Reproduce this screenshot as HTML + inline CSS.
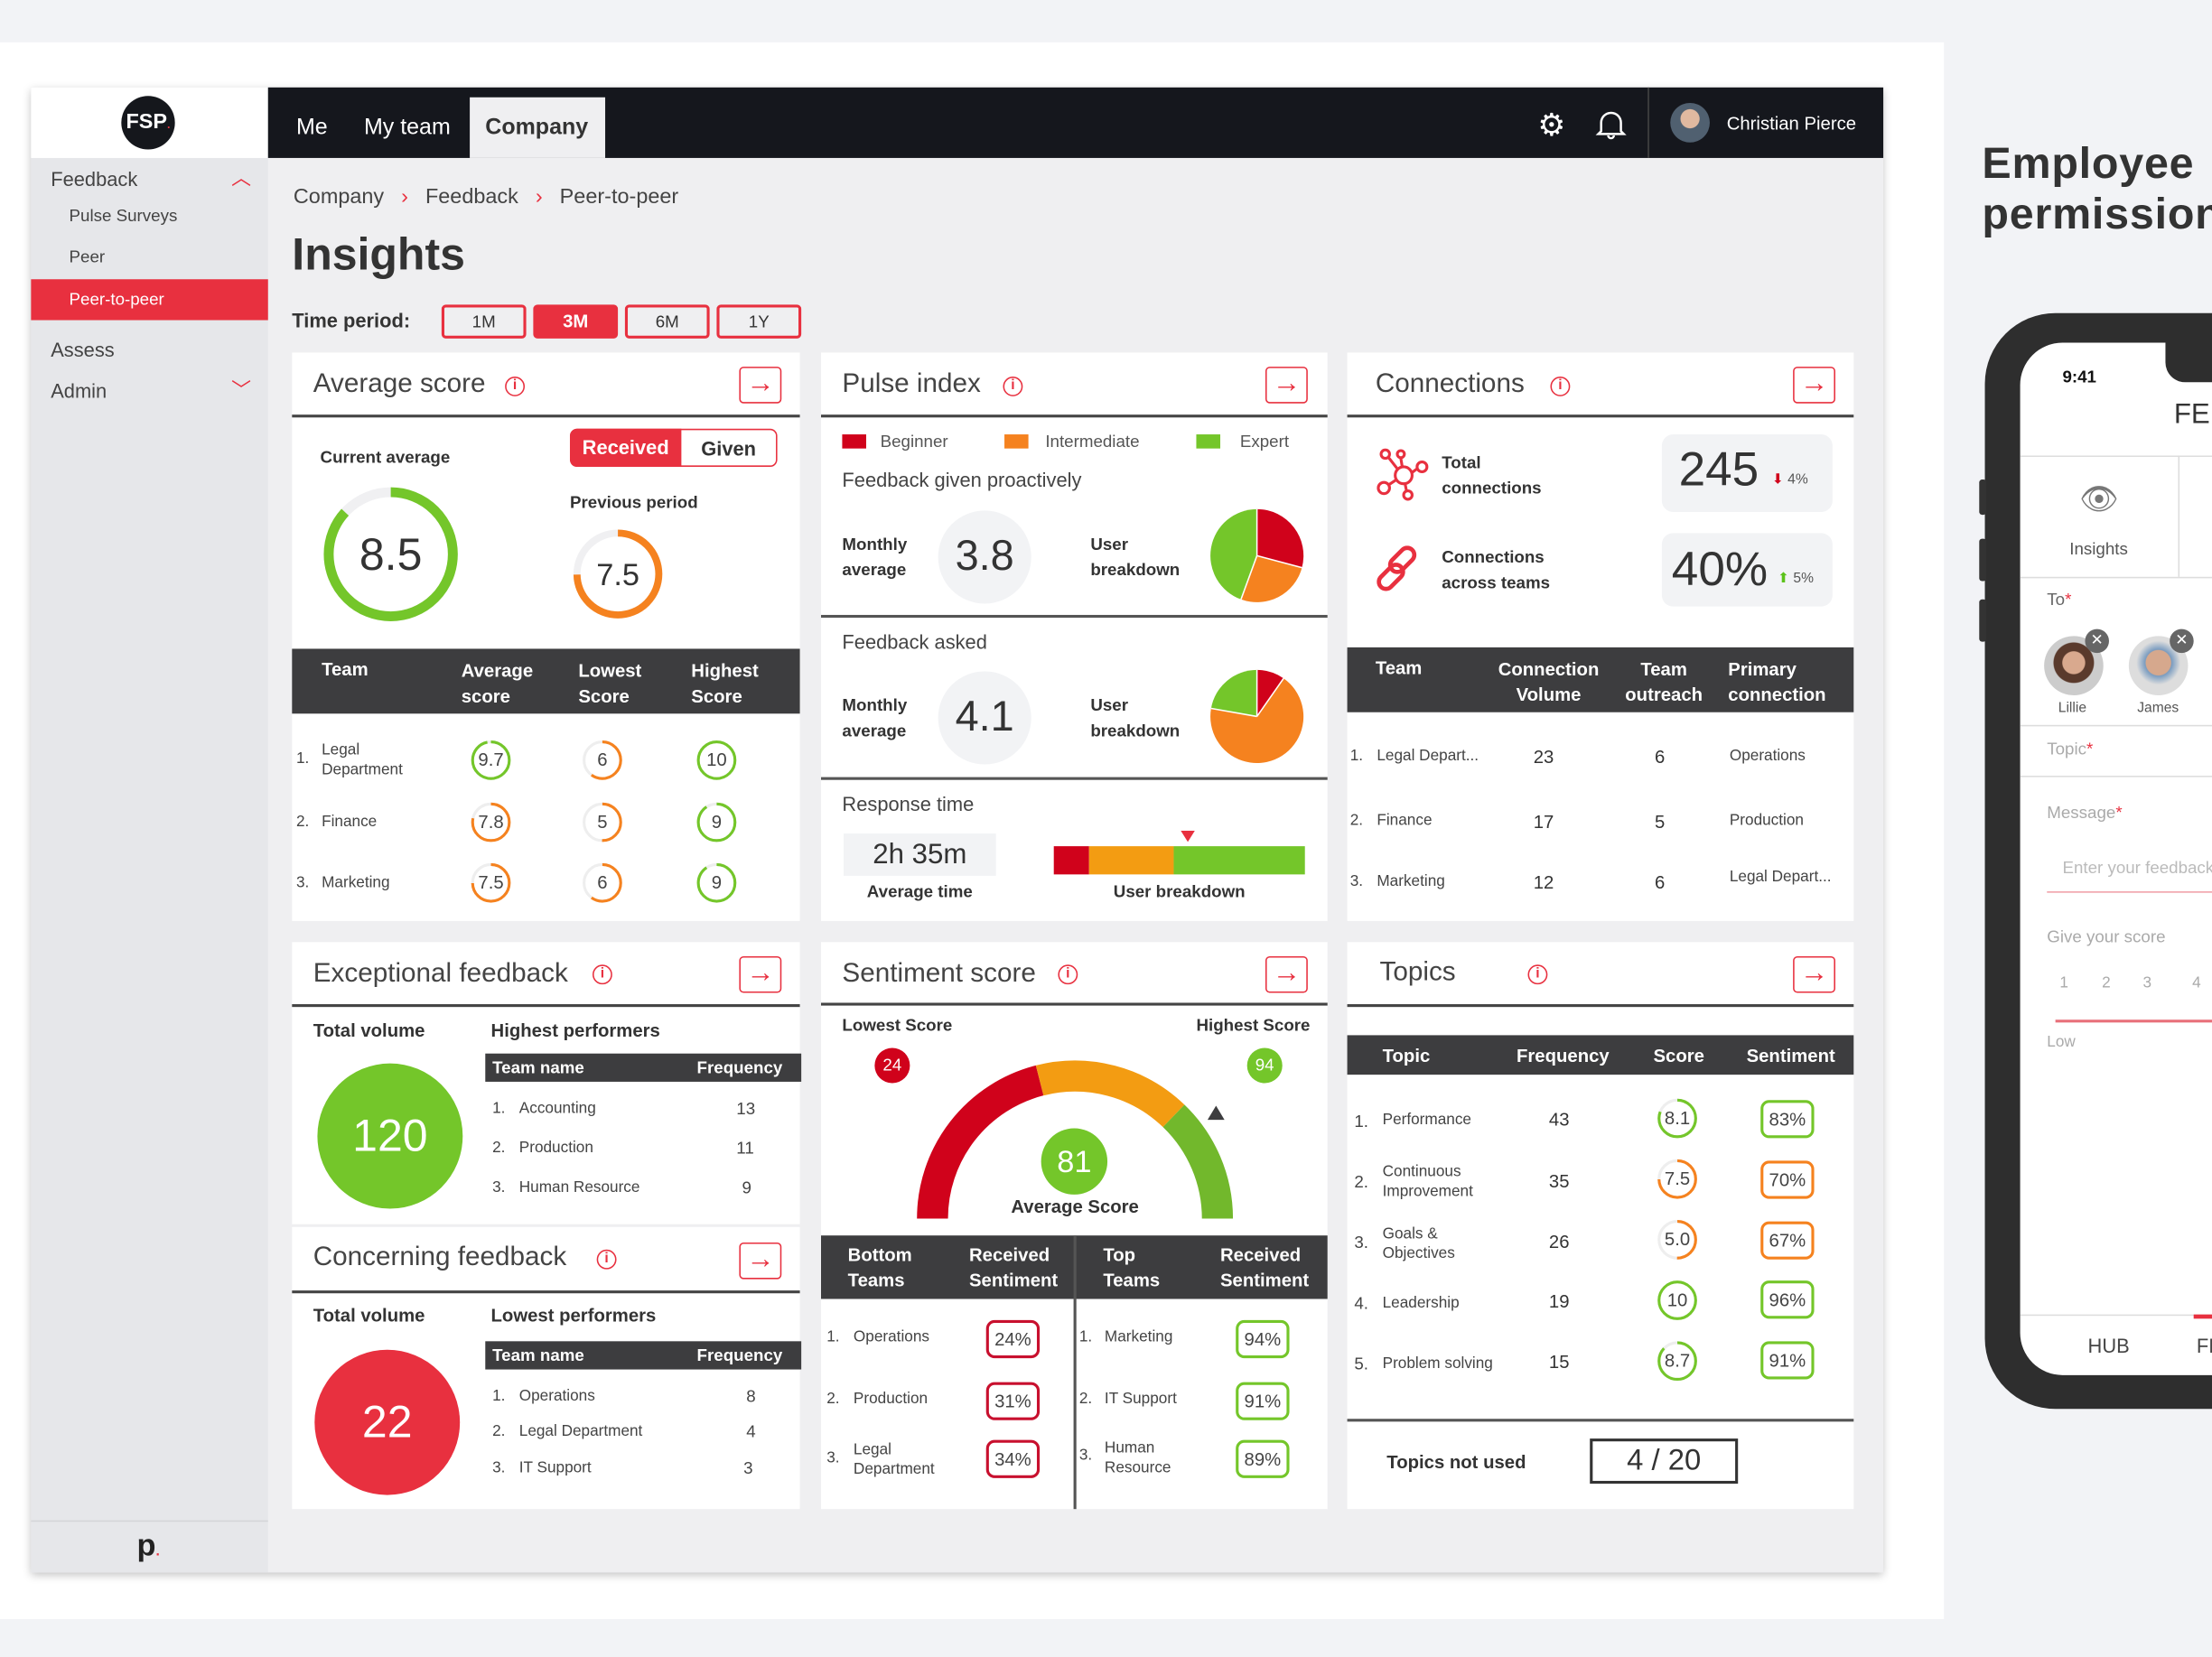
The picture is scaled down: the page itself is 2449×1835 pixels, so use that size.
<!DOCTYPE html>
<html><head><meta charset="utf-8">
<style>
*{margin:0;padding:0;box-sizing:border-box}
html,body{width:2449px;height:1835px;overflow:hidden;background:#f2f3f6}
#w{position:absolute;left:0;top:0;width:1568px;height:1175px;transform:scale(1.56186);transform-origin:0 0;font-family:"Liberation Sans",sans-serif;color:#333}
.a{position:absolute;white-space:nowrap}
.card{position:absolute;background:#fff}
.hl{position:absolute;height:2px;background:#444}
.ttl{position:absolute;font-size:19px;color:#444}
.info{position:absolute;width:14px;height:14px;border:1.5px solid #e8303f;border-radius:50%;color:#e8303f;font-size:10px;font-weight:bold;text-align:center;line-height:11px}
.arr{position:absolute;width:30px;height:26px;border:1.5px solid #e8303f;border-radius:3px;color:#e8303f;font-size:20px;text-align:center;line-height:22px}
.th{position:absolute;background:#3d3d3f;color:#fff;font-weight:bold;font-size:13px}
.b{font-weight:bold}
.sr{position:absolute;width:30px;height:30px}
.sr svg{position:absolute;left:0;top:0}
.sr span{position:absolute;left:0;top:0;width:30px;line-height:30px;text-align:center;font-size:13px;color:#444}
.pill{position:absolute;width:38px;height:27px;border:2px solid;border-radius:6px;text-align:center;line-height:23px;font-size:13px;color:#444}
.sm{font-size:11px;color:#444}
</style></head><body><div id="w">
<div class="a" style="left:0;top:30px;width:1378px;height:1118px;background:#fff"></div>
<div class="a" style="left:22px;top:62px;width:1313px;height:1053px;background:#efeff1;box-shadow:0 2px 6px rgba(0,0,0,.25)"></div>
<div class="a" style="left:22px;top:62px;width:168px;height:1053px;background:#e6e7ea"></div>
<div class="a" style="left:22px;top:62px;width:168px;height:50px;background:#fff"></div>
<div class="a" style="left:86px;top:68px;width:38px;height:38px;border-radius:50%;background:#15171c;color:#fff;font-weight:bold;font-size:15px;text-align:center;line-height:38px">FSP<span style="color:#e8303f;font-size:8px">.</span></div>
<div class="a" style="left:36px;top:119px;font-size:14px;color:#444">Feedback</div>
<div class="a" style="left:164px;top:116px;font-size:14px;color:#e8303f">︿</div>
<div class="a" style="left:49px;top:146px;font-size:12px;color:#444">Pulse Surveys</div>
<div class="a" style="left:49px;top:175px;font-size:12px;color:#444">Peer</div>
<div class="a" style="left:22px;top:198px;width:168px;height:29px;background:#e8303f"></div>
<div class="a" style="left:49px;top:205px;font-size:12px;color:#fff">Peer-to-peer</div>
<div class="a" style="left:36px;top:240px;font-size:14px;color:#444">Assess</div>
<div class="a" style="left:36px;top:269px;font-size:14px;color:#444">Admin</div>
<div class="a" style="left:164px;top:266px;font-size:14px;color:#e8303f">﹀</div>
<div class="a" style="left:22px;top:1078px;width:168px;height:1px;background:#d4d5d8"></div>
<div class="a" style="left:97px;top:1083px;font-size:22px;font-weight:bold;color:#222">p<span style="color:#e8303f;font-size:10px">.</span></div>
<div class="a" style="left:190px;top:62px;width:1145px;height:50px;background:#15171d"></div>
<div class="a" style="left:333px;top:69px;width:96px;height:43px;background:#efeff1"></div>
<div class="a" style="left:210px;top:82px;font-size:16px;color:#fff">Me</div>
<div class="a" style="left:258px;top:82px;font-size:16px;color:#fff">My team</div>
<div class="a" style="left:344px;top:82px;font-size:16px;color:#333;font-weight:bold">Company</div>
<div class="a" style="left:1090px;top:76px;font-size:22px;color:#fff">⚙</div>
<svg class="a" style="left:1130px;top:76px" width="24" height="24"><path d="M5 17 V11 a7 7 0 0 1 14 0 V17 L21 19 H3 Z M10 20 a2 2 0 0 0 4 0" fill="none" stroke="#fff" stroke-width="1.6"/></svg>
<div class="a" style="left:1168px;top:62px;width:1px;height:50px;background:#444"></div>
<div class="a" style="left:1184px;top:73px;width:28px;height:28px;border-radius:50%;background:radial-gradient(circle at 50% 40%,#e0b9a0 0 30%,#506070 32%)"></div>
<div class="a" style="left:1224px;top:80px;font-size:13px;color:#fff">Christian Pierce</div>
<div class="a" style="left:208px;top:131px;font-size:15px;color:#444">Company <span style="color:#e8303f;margin:0 8px">›</span> Feedback <span style="color:#e8303f;margin:0 8px">›</span> Peer-to-peer</div>
<div class="a" style="left:207px;top:162px;font-size:32px;color:#333;font-weight:bold">Insights</div>
<div class="a" style="left:207px;top:219px;font-size:14px;color:#333;font-weight:bold">Time period:</div>
<div class="a" style="left:313px;top:216px;width:60px;height:24px;border:2px solid #e8303f;border-radius:3px;text-align:center;line-height:20px;font-size:12px">1M</div>
<div class="a" style="left:378px;top:216px;width:60px;height:24px;background:#e8303f;border-radius:3px;text-align:center;line-height:24px;font-size:13px;color:#fff;font-weight:bold">3M</div>
<div class="a" style="left:443px;top:216px;width:60px;height:24px;border:2px solid #e8303f;border-radius:3px;text-align:center;line-height:20px;font-size:12px">6M</div>
<div class="a" style="left:508px;top:216px;width:60px;height:24px;border:2px solid #e8303f;border-radius:3px;text-align:center;line-height:20px;font-size:12px">1Y</div>

<div class="card" style="left:207px;top:250px;width:360px;height:403px"></div>
<div class="ttl" style="left:222px;top:262px">Average score</div>
<div class="info" style="left:358px;top:267px">i</div>
<div class="arr" style="left:524px;top:260px">→</div>
<div class="hl" style="left:207px;top:294px;width:360px"></div>
<div class="a b" style="left:227px;top:317px;font-size:12px">Current average</div>
<div class="a" style="left:404px;top:304px;width:147px;height:27px;border:1.5px solid #e8303f;border-radius:5px"></div>
<div class="a b" style="left:404px;top:304px;width:79px;height:27px;background:#e8303f;border-radius:5px 0 0 5px;color:#fff;font-size:14px;text-align:center;line-height:27px">Received</div>
<div class="a b" style="left:497px;top:310px;font-size:14px">Given</div>
<div class="a b" style="left:404px;top:349px;font-size:12px">Previous period</div>
<svg class="a" style="left:227px;top:343px" width="100" height="100"><circle cx="50" cy="50" r="44" fill="none" stroke="#f0f0f2" stroke-width="7"/><circle cx="50" cy="50" r="44" fill="none" stroke="#74c62a" stroke-width="7" stroke-dasharray="240 277" transform="rotate(-90 50 50)"/></svg>
<div class="a" style="left:227px;top:375px;width:100px;text-align:center;font-size:32px;color:#333">8.5</div>
<svg class="a" style="left:405px;top:374px" width="66" height="66"><circle cx="33" cy="33" r="29" fill="none" stroke="#f0f0f2" stroke-width="5"/><circle cx="33" cy="33" r="29" fill="none" stroke="#f5821f" stroke-width="5" stroke-dasharray="136 182" transform="rotate(-90 33 33)"/></svg>
<div class="a" style="left:405px;top:395px;width:66px;text-align:center;font-size:22px;color:#333">7.5</div>
<div class="th" style="left:207px;top:460px;width:360px;height:46px"></div>
<div class="a b" style="left:228px;top:467px;font-size:13px;color:#fff">Team</div>
<div class="a b" style="left:327px;top:467px;font-size:13px;color:#fff;line-height:18px">Average<br>score</div>
<div class="a b" style="left:410px;top:467px;font-size:13px;color:#fff;line-height:18px">Lowest<br>Score</div>
<div class="a b" style="left:490px;top:467px;font-size:13px;color:#fff;line-height:18px">Highest<br>Score</div>
<div class="a sm" style="left:210px;top:532px">1.</div><div class="a sm" style="left:228px;top:525px;line-height:14px">Legal<br>Department</div>
<div class="a sm" style="left:210px;top:577px">2.</div><div class="a sm" style="left:228px;top:577px">Finance</div>
<div class="a sm" style="left:210px;top:620px">3.</div><div class="a sm" style="left:228px;top:620px">Marketing</div>
<div class="sr" style="left:333px;top:524px"><svg width="30" height="30"><circle cx="15" cy="15" r="13" fill="none" stroke="#eee" stroke-width="2"/><circle cx="15" cy="15" r="13" fill="none" stroke="#74c62a" stroke-width="2" stroke-dasharray="79 82" transform="rotate(-90 15 15)"/></svg><span>9.7</span></div>
<div class="sr" style="left:412px;top:524px"><svg width="30" height="30"><circle cx="15" cy="15" r="13" fill="none" stroke="#eee" stroke-width="2"/><circle cx="15" cy="15" r="13" fill="none" stroke="#f5821f" stroke-width="2" stroke-dasharray="49 82" transform="rotate(-90 15 15)"/></svg><span>6</span></div>
<div class="sr" style="left:493px;top:524px"><svg width="30" height="30"><circle cx="15" cy="15" r="13" fill="none" stroke="#74c62a" stroke-width="2"/></svg><span>10</span></div>
<div class="sr" style="left:333px;top:568px"><svg width="30" height="30"><circle cx="15" cy="15" r="13" fill="none" stroke="#eee" stroke-width="2"/><circle cx="15" cy="15" r="13" fill="none" stroke="#f5821f" stroke-width="2" stroke-dasharray="64 82" transform="rotate(-90 15 15)"/></svg><span>7.8</span></div>
<div class="sr" style="left:412px;top:568px"><svg width="30" height="30"><circle cx="15" cy="15" r="13" fill="none" stroke="#eee" stroke-width="2"/><circle cx="15" cy="15" r="13" fill="none" stroke="#f5821f" stroke-width="2" stroke-dasharray="41 82" transform="rotate(-90 15 15)"/></svg><span>5</span></div>
<div class="sr" style="left:493px;top:568px"><svg width="30" height="30"><circle cx="15" cy="15" r="13" fill="none" stroke="#eee" stroke-width="2"/><circle cx="15" cy="15" r="13" fill="none" stroke="#74c62a" stroke-width="2" stroke-dasharray="74 82" transform="rotate(-90 15 15)"/></svg><span>9</span></div>
<div class="sr" style="left:333px;top:611px"><svg width="30" height="30"><circle cx="15" cy="15" r="13" fill="none" stroke="#eee" stroke-width="2"/><circle cx="15" cy="15" r="13" fill="none" stroke="#f5821f" stroke-width="2" stroke-dasharray="61 82" transform="rotate(-90 15 15)"/></svg><span>7.5</span></div>
<div class="sr" style="left:412px;top:611px"><svg width="30" height="30"><circle cx="15" cy="15" r="13" fill="none" stroke="#eee" stroke-width="2"/><circle cx="15" cy="15" r="13" fill="none" stroke="#f5821f" stroke-width="2" stroke-dasharray="49 82" transform="rotate(-90 15 15)"/></svg><span>6</span></div>
<div class="sr" style="left:493px;top:611px"><svg width="30" height="30"><circle cx="15" cy="15" r="13" fill="none" stroke="#eee" stroke-width="2"/><circle cx="15" cy="15" r="13" fill="none" stroke="#74c62a" stroke-width="2" stroke-dasharray="74 82" transform="rotate(-90 15 15)"/></svg><span>9</span></div>

<div class="card" style="left:582px;top:250px;width:359px;height:403px"></div>
<div class="ttl" style="left:597px;top:262px">Pulse index</div>
<div class="info" style="left:711px;top:267px">i</div>
<div class="arr" style="left:897px;top:260px">→</div>
<div class="hl" style="left:582px;top:294px;width:359px"></div>
<div class="a" style="left:597px;top:308px;width:17px;height:10px;background:#d0021b"></div><div class="a" style="left:624px;top:306px;font-size:12px;color:#555">Beginner</div>
<div class="a" style="left:712px;top:308px;width:17px;height:10px;background:#f5821f"></div><div class="a" style="left:741px;top:306px;font-size:12px;color:#555">Intermediate</div>
<div class="a" style="left:848px;top:308px;width:17px;height:10px;background:#74c62a"></div><div class="a" style="left:879px;top:306px;font-size:12px;color:#555">Expert</div>
<div class="a" style="left:597px;top:332px;font-size:14px;color:#444">Feedback given proactively</div>
<div class="a b" style="left:597px;top:377px;font-size:12px;line-height:18px">Monthly<br>average</div>
<div class="a" style="left:665px;top:362px;width:66px;height:66px;border-radius:50%;background:#f2f3f5;text-align:center;line-height:66px;font-size:30px">3.8</div>
<div class="a b" style="left:773px;top:377px;font-size:12px;line-height:18px">User<br>breakdown</div>
<svg class="a" style="left:857px;top:360px" width="68" height="68"><g transform="translate(34,34)"><path d="M0 0 L0 -33 A33 33 0 0 1 31.9 8.5 Z" fill="#d0021b"/><path d="M0 0 L31.9 8.5 A33 33 0 0 1 -11.3 31 Z" fill="#f5821f"/><path d="M0 0 L-11.3 31 A33 33 0 0 1 0 -33 Z" fill="#74c62a"/><line x1="0" y1="0" x2="0" y2="-33" stroke="#fff"/><line x1="0" y1="0" x2="31.9" y2="8.5" stroke="#fff"/><line x1="0" y1="0" x2="-11.3" y2="31" stroke="#fff"/></g></svg>
<div class="a" style="left:582px;top:436px;width:359px;height:1.5px;background:#555"></div>
<div class="a" style="left:597px;top:447px;font-size:14px;color:#444">Feedback asked</div>
<div class="a b" style="left:597px;top:491px;font-size:12px;line-height:18px">Monthly<br>average</div>
<div class="a" style="left:665px;top:476px;width:66px;height:66px;border-radius:50%;background:#f2f3f5;text-align:center;line-height:66px;font-size:30px">4.1</div>
<div class="a b" style="left:773px;top:491px;font-size:12px;line-height:18px">User<br>breakdown</div>
<svg class="a" style="left:857px;top:474px" width="68" height="68"><g transform="translate(34,34)"><path d="M0 0 L0 -33 A33 33 0 0 1 18.9 -27 Z" fill="#d0021b"/><path d="M0 0 L18.9 -27 A33 33 0 1 1 -32.5 -5.7 Z" fill="#f5821f"/><path d="M0 0 L-32.5 -5.7 A33 33 0 0 1 0 -33 Z" fill="#74c62a"/><line x1="0" y1="0" x2="0" y2="-33" stroke="#fff"/><line x1="0" y1="0" x2="18.9" y2="-27" stroke="#fff"/><line x1="0" y1="0" x2="-32.5" y2="-5.7" stroke="#fff"/></g></svg>
<div class="a" style="left:582px;top:551px;width:359px;height:1.5px;background:#555"></div>
<div class="a" style="left:597px;top:562px;font-size:14px;color:#444">Response time</div>
<div class="a" style="left:598px;top:591px;width:108px;height:30px;background:#f2f3f5;text-align:center;line-height:30px;font-size:20px">2h 35m</div>
<div class="a b" style="left:598px;top:625px;width:108px;text-align:center;font-size:12px">Average time</div>
<div class="a" style="left:747px;top:600px;width:25px;height:20px;background:#d0021b"></div>
<div class="a" style="left:772px;top:600px;width:60px;height:20px;background:#f39c12"></div>
<div class="a" style="left:832px;top:600px;width:93px;height:20px;background:#74c62a"></div>
<svg class="a" style="left:837px;top:589px" width="10" height="8"><path d="M0 0 H10 L5 8Z" fill="#e8303f"/></svg>
<div class="a b" style="left:747px;top:625px;width:178px;text-align:center;font-size:12px">User breakdown</div>

<div class="card" style="left:955px;top:250px;width:359px;height:403px"></div>
<div class="ttl" style="left:975px;top:262px">Connections</div>
<div class="info" style="left:1099px;top:267px">i</div>
<div class="arr" style="left:1271px;top:260px">→</div>
<div class="hl" style="left:955px;top:294px;width:359px"></div>
<svg class="a" style="left:975px;top:318px" width="40" height="40" fill="none" stroke="#e8303f" stroke-width="2"><circle cx="20" cy="19" r="6"/><circle cx="7" cy="4" r="3"/><circle cx="18" cy="4" r="2.5"/><circle cx="33" cy="13" r="3.5"/><circle cx="6" cy="28" r="4"/><circle cx="23" cy="33" r="3"/><path d="M9 6 L16 15 M18 7 L19 13 M26 17 L30 14 M15 22 L9 26 M21 25 L22 30"/></svg>
<div class="a b" style="left:1022px;top:319px;font-size:12px;line-height:18px">Total<br>connections</div>
<div class="a" style="left:1178px;top:308px;width:121px;height:55px;background:#f2f3f5;border-radius:8px"></div>
<div class="a" style="left:1190px;top:314px;font-size:34px;color:#333">245</div>
<div class="a" style="left:1256px;top:335px;font-size:10px;color:#555"><span style="color:#d0021b">⬇</span> 4%</div>
<svg class="a" style="left:975px;top:385px" width="36" height="36" fill="none" stroke="#e8303f" stroke-width="3"><rect x="14" y="2" width="10" height="20" rx="5" transform="rotate(45 19 12)"/><rect x="6" y="14" width="10" height="20" rx="5" transform="rotate(45 11 24)"/></svg>
<div class="a b" style="left:1022px;top:386px;font-size:12px;line-height:18px">Connections<br>across teams</div>
<div class="a" style="left:1178px;top:378px;width:121px;height:52px;background:#f2f3f5;border-radius:8px"></div>
<div class="a" style="left:1185px;top:385px;font-size:34px;color:#333">40%</div>
<div class="a" style="left:1260px;top:405px;font-size:10px;color:#555"><span style="color:#5cc21a">⬆</span> 5%</div>
<div class="th" style="left:955px;top:459px;width:359px;height:46px"></div>
<div class="a b" style="left:975px;top:466px;font-size:13px;color:#fff">Team</div>
<div class="a b" style="left:1062px;top:466px;font-size:13px;color:#fff;line-height:18px;text-align:center">Connection<br>Volume</div>
<div class="a b" style="left:1152px;top:466px;font-size:13px;color:#fff;line-height:18px;text-align:center">Team<br>outreach</div>
<div class="a b" style="left:1225px;top:466px;font-size:13px;color:#fff;line-height:18px">Primary<br>connection</div>
<div class="a sm" style="left:957px;top:530px">1.</div><div class="a sm" style="left:976px;top:530px">Legal Depart...</div><div class="a" style="left:1087px;top:529px;font-size:13px">23</div><div class="a" style="left:1173px;top:529px;font-size:13px">6</div><div class="a sm" style="left:1226px;top:530px">Operations</div>
<div class="a sm" style="left:957px;top:576px">2.</div><div class="a sm" style="left:976px;top:576px">Finance</div><div class="a" style="left:1087px;top:575px;font-size:13px">17</div><div class="a" style="left:1173px;top:575px;font-size:13px">5</div><div class="a sm" style="left:1226px;top:576px">Production</div>
<div class="a sm" style="left:957px;top:619px">3.</div><div class="a sm" style="left:976px;top:619px">Marketing</div><div class="a" style="left:1087px;top:618px;font-size:13px">12</div><div class="a" style="left:1173px;top:618px;font-size:13px">6</div><div class="a sm" style="left:1226px;top:616px">Legal Depart...</div>

<div class="card" style="left:207px;top:668px;width:360px;height:200px"></div>
<div class="ttl" style="left:222px;top:680px">Exceptional feedback</div>
<div class="info" style="left:420px;top:684px">i</div>
<div class="arr" style="left:524px;top:678px">→</div>
<div class="hl" style="left:207px;top:712px;width:360px"></div>
<div class="a b" style="left:222px;top:723px;font-size:13px">Total volume</div>
<div class="a" style="left:225px;top:754px;width:103px;height:103px;border-radius:50%;background:#74c62a;color:#fff;font-size:32px;text-align:center;line-height:103px">120</div>
<div class="a b" style="left:348px;top:723px;font-size:13px">Highest performers</div>
<div class="th" style="left:344px;top:747px;width:224px;height:20px"></div>
<div class="a b" style="left:349px;top:750px;font-size:12px;color:#fff">Team name</div><div class="a b" style="left:494px;top:750px;font-size:12px;color:#fff">Frequency</div>
<div class="a sm" style="left:349px;top:780px">1.</div><div class="a sm" style="left:368px;top:780px">Accounting</div><div class="a sm" style="left:522px;top:779px;font-size:12px">13</div>
<div class="a sm" style="left:349px;top:808px">2.</div><div class="a sm" style="left:368px;top:808px">Production</div><div class="a sm" style="left:522px;top:807px;font-size:12px">11</div>
<div class="a sm" style="left:349px;top:836px">3.</div><div class="a sm" style="left:368px;top:836px">Human Resource</div><div class="a sm" style="left:526px;top:835px;font-size:12px">9</div>

<div class="card" style="left:207px;top:870px;width:360px;height:200px"></div>
<div class="ttl" style="left:222px;top:881px">Concerning feedback</div>
<div class="info" style="left:423px;top:886px">i</div>
<div class="arr" style="left:524px;top:881px">→</div>
<div class="hl" style="left:207px;top:915px;width:360px"></div>
<div class="a b" style="left:222px;top:925px;font-size:13px">Total volume</div>
<div class="a" style="left:223px;top:957px;width:103px;height:103px;border-radius:50%;background:#e8303f;color:#fff;font-size:32px;text-align:center;line-height:103px">22</div>
<div class="a b" style="left:348px;top:925px;font-size:13px">Lowest performers</div>
<div class="th" style="left:344px;top:951px;width:224px;height:20px"></div>
<div class="a b" style="left:349px;top:954px;font-size:12px;color:#fff">Team name</div><div class="a b" style="left:494px;top:954px;font-size:12px;color:#fff">Frequency</div>
<div class="a sm" style="left:349px;top:984px">1.</div><div class="a sm" style="left:368px;top:984px">Operations</div><div class="a sm" style="left:529px;top:983px;font-size:12px">8</div>
<div class="a sm" style="left:349px;top:1009px">2.</div><div class="a sm" style="left:368px;top:1009px">Legal Department</div><div class="a sm" style="left:529px;top:1008px;font-size:12px">4</div>
<div class="a sm" style="left:349px;top:1035px">3.</div><div class="a sm" style="left:368px;top:1035px">IT Support</div><div class="a sm" style="left:527px;top:1034px;font-size:12px">3</div>

<div class="card" style="left:582px;top:668px;width:359px;height:402px"></div>
<div class="ttl" style="left:597px;top:680px">Sentiment score</div>
<div class="info" style="left:750px;top:684px">i</div>
<div class="arr" style="left:897px;top:678px">→</div>
<div class="hl" style="left:582px;top:711px;width:359px"></div>
<div class="a b" style="left:597px;top:720px;font-size:12px">Lowest Score</div>
<div class="a b" style="left:848px;top:720px;font-size:12px">Highest Score</div>
<div class="a" style="left:620px;top:743px;width:25px;height:25px;border-radius:50%;background:#d0021b;color:#fff;font-size:12px;text-align:center;line-height:25px">24</div>
<div class="a" style="left:884px;top:743px;width:25px;height:25px;border-radius:50%;background:#74c62a;color:#fff;font-size:12px;text-align:center;line-height:25px">94</div>
<svg class="a" style="left:582px;top:700px" width="359" height="175" fill="none" stroke-width="22"><g transform="translate(180,164)">
<path d="M-101 0 A101 101 0 0 1 -25 -97.9" stroke="#d0021b"/>
<path d="M-25 -97.9 A101 101 0 0 1 70 -72.8" stroke="#f39c12"/>
<path d="M70 -72.8 A101 101 0 0 1 101 0" stroke="#72b82c"/>
</g><path d="M274 94 L286 94 L280 84Z" fill="#3d3d3f" stroke="none"/></svg>
<div class="a" style="left:738px;top:800px;width:47px;height:47px;border-radius:50%;background:#74c62a;color:#fff;font-size:22px;text-align:center;line-height:47px">81</div>
<div class="a b" style="left:700px;top:848px;width:124px;text-align:center;font-size:13px">Average Score</div>
<div class="th" style="left:582px;top:876px;width:359px;height:45px"></div>
<div class="a" style="left:761px;top:876px;width:1.5px;height:194px;background:#555"></div>
<div class="a b" style="left:601px;top:881px;font-size:13px;color:#fff;line-height:18px">Bottom<br>Teams</div>
<div class="a b" style="left:687px;top:881px;font-size:13px;color:#fff;line-height:18px">Received<br>Sentiment</div>
<div class="a b" style="left:782px;top:881px;font-size:13px;color:#fff;line-height:18px">Top<br>Teams</div>
<div class="a b" style="left:865px;top:881px;font-size:13px;color:#fff;line-height:18px">Received<br>Sentiment</div>
<div class="a sm" style="left:586px;top:942px">1.</div><div class="a sm" style="left:605px;top:942px">Operations</div><div class="pill" style="left:699px;top:936px;border-color:#c8102e">24%</div>
<div class="a sm" style="left:586px;top:986px">2.</div><div class="a sm" style="left:605px;top:986px">Production</div><div class="pill" style="left:699px;top:980px;border-color:#c8102e">31%</div>
<div class="a sm" style="left:586px;top:1028px">3.</div><div class="a sm" style="left:605px;top:1021px;line-height:14px">Legal<br>Department</div><div class="pill" style="left:699px;top:1021px;border-color:#c8102e">34%</div>
<div class="a sm" style="left:765px;top:942px">1.</div><div class="a sm" style="left:783px;top:942px">Marketing</div><div class="pill" style="left:876px;top:936px;border-color:#74c62a">94%</div>
<div class="a sm" style="left:765px;top:986px">2.</div><div class="a sm" style="left:783px;top:986px">IT Support</div><div class="pill" style="left:876px;top:980px;border-color:#74c62a">91%</div>
<div class="a sm" style="left:765px;top:1026px">3.</div><div class="a sm" style="left:783px;top:1020px;line-height:14px">Human<br>Resource</div><div class="pill" style="left:876px;top:1021px;border-color:#74c62a">89%</div>

<div class="card" style="left:955px;top:668px;width:359px;height:402px"></div>
<div class="ttl" style="left:978px;top:679px">Topics</div>
<div class="info" style="left:1083px;top:684px">i</div>
<div class="arr" style="left:1271px;top:678px">→</div>
<div class="hl" style="left:955px;top:712px;width:359px"></div>
<div class="th" style="left:955px;top:734px;width:359px;height:28px"></div>
<div class="a b" style="left:980px;top:741px;font-size:13px;color:#fff">Topic</div>
<div class="a b" style="left:1075px;top:741px;font-size:13px;color:#fff">Frequency</div>
<div class="a b" style="left:1172px;top:741px;font-size:13px;color:#fff">Score</div>
<div class="a b" style="left:1238px;top:741px;font-size:13px;color:#fff">Sentiment</div>
<div class="a sm" style="left:960px;top:788px;font-size:12px">1.</div><div class="a sm" style="left:980px;top:788px">Performance</div><div class="a" style="left:1098px;top:786px;font-size:13px">43</div>
<div class="a sm" style="left:960px;top:831px;font-size:12px">2.</div><div class="a sm" style="left:980px;top:824px;line-height:14px">Continuous<br>Improvement</div><div class="a" style="left:1098px;top:830px;font-size:13px">35</div>
<div class="a sm" style="left:960px;top:874px;font-size:12px">3.</div><div class="a sm" style="left:980px;top:868px;line-height:14px">Goals &amp;<br>Objectives</div><div class="a" style="left:1098px;top:873px;font-size:13px">26</div>
<div class="a sm" style="left:960px;top:917px;font-size:12px">4.</div><div class="a sm" style="left:980px;top:918px">Leadership</div><div class="a" style="left:1098px;top:915px;font-size:13px">19</div>
<div class="a sm" style="left:960px;top:960px;font-size:12px">5.</div><div class="a sm" style="left:980px;top:961px">Problem solving</div><div class="a" style="left:1098px;top:958px;font-size:13px">15</div>
<div class="sr" style="left:1174px;top:778px"><svg width="30" height="30"><circle cx="15" cy="15" r="13" fill="none" stroke="#eee" stroke-width="2"/><circle cx="15" cy="15" r="13" fill="none" stroke="#74c62a" stroke-width="2" stroke-dasharray="66 82" transform="rotate(-90 15 15)"/></svg><span>8.1</span></div>
<div class="sr" style="left:1174px;top:821px"><svg width="30" height="30"><circle cx="15" cy="15" r="13" fill="none" stroke="#eee" stroke-width="2"/><circle cx="15" cy="15" r="13" fill="none" stroke="#f5821f" stroke-width="2" stroke-dasharray="61 82" transform="rotate(-90 15 15)"/></svg><span>7.5</span></div>
<div class="sr" style="left:1174px;top:864px"><svg width="30" height="30"><circle cx="15" cy="15" r="13" fill="none" stroke="#eee" stroke-width="2"/><circle cx="15" cy="15" r="13" fill="none" stroke="#f5821f" stroke-width="2" stroke-dasharray="41 82" transform="rotate(-90 15 15)"/></svg><span>5.0</span></div>
<div class="sr" style="left:1174px;top:907px"><svg width="30" height="30"><circle cx="15" cy="15" r="13" fill="none" stroke="#74c62a" stroke-width="2"/></svg><span>10</span></div>
<div class="sr" style="left:1174px;top:950px"><svg width="30" height="30"><circle cx="15" cy="15" r="13" fill="none" stroke="#eee" stroke-width="2"/><circle cx="15" cy="15" r="13" fill="none" stroke="#74c62a" stroke-width="2" stroke-dasharray="71 82" transform="rotate(-90 15 15)"/></svg><span>8.7</span></div>
<div class="pill" style="left:1248px;top:780px;border-color:#74c62a">83%</div>
<div class="pill" style="left:1248px;top:823px;border-color:#f5821f">70%</div>
<div class="pill" style="left:1248px;top:866px;border-color:#f5821f">67%</div>
<div class="pill" style="left:1248px;top:908px;border-color:#74c62a">96%</div>
<div class="pill" style="left:1248px;top:951px;border-color:#74c62a">91%</div>
<div class="a" style="left:955px;top:1006px;width:359px;height:1.5px;background:#555"></div>
<div class="a b" style="left:983px;top:1029px;font-size:13px">Topics not used</div>
<div class="a" style="left:1127px;top:1020px;width:105px;height:32px;border:2px solid #333;text-align:center;line-height:28px;font-size:21px">4 / 20</div>

<div class="a b" style="left:1405px;top:98px;font-size:31px;color:#333;line-height:36px;letter-spacing:0.5px">Employee<br>permission</div>
<div class="a" style="left:1407px;top:222px;width:200px;height:777px;background:#2e2e2e;border-radius:50px 0 0 50px"></div>
<div class="a" style="left:1403px;top:340px;width:5px;height:25px;background:#333;border-radius:2px"></div>
<div class="a" style="left:1403px;top:382px;width:5px;height:30px;background:#333;border-radius:2px"></div>
<div class="a" style="left:1403px;top:425px;width:5px;height:30px;background:#333;border-radius:2px"></div>
<div class="a" style="left:1432px;top:243px;width:150px;height:732px;background:#fff;border-radius:30px 0 0 30px"></div>
<div class="a" style="left:1535px;top:243px;width:40px;height:28px;background:#2e2e2e;border-radius:0 0 0 14px"></div>
<div class="a b" style="left:1462px;top:260px;font-size:12px;color:#111">9:41</div>
<div class="a" style="left:1541px;top:283px;font-size:20px;color:#333">FE</div>
<div class="a" style="left:1432px;top:323px;width:140px;height:1px;background:#ddd"></div>
<div class="a" style="left:1544px;top:323px;width:1px;height:86px;background:#ddd"></div>
<div class="a" style="left:1474px;top:341px;font-size:22px;color:#777">👁</div>
<div class="a" style="left:1467px;top:382px;font-size:12px;color:#555">Insights</div>
<div class="a" style="left:1432px;top:409px;width:140px;height:1px;background:#ddd"></div>
<div class="a" style="left:1451px;top:418px;font-size:12px;color:#666">To<span style="color:#e8303f">*</span></div>
<div class="a" style="left:1449px;top:451px;width:42px;height:42px;border-radius:50%;background:radial-gradient(circle at 50% 45%,#d9a98e 0 25%,#5a3a2c 27% 45%,#ccc 47%)"></div>
<div class="a" style="left:1509px;top:451px;width:42px;height:42px;border-radius:50%;background:radial-gradient(circle at 50% 45%,#d6a88d 0 28%,#7a9cc0 30%,#ddd 50%)"></div>
<div class="a" style="left:1478px;top:446px;width:17px;height:17px;border-radius:50%;background:#666;color:#fff;font-size:11px;text-align:center;line-height:17px">✕</div>
<div class="a" style="left:1538px;top:446px;width:17px;height:17px;border-radius:50%;background:#666;color:#fff;font-size:11px;text-align:center;line-height:17px">✕</div>
<div class="a" style="left:1459px;top:497px;font-size:10px;color:#555">Lillie</div>
<div class="a" style="left:1515px;top:497px;font-size:10px;color:#555">James</div>
<div class="a" style="left:1432px;top:514px;width:140px;height:1px;background:#ddd"></div>
<div class="a" style="left:1451px;top:524px;font-size:12px;color:#aaa">Topic<span style="color:#e8303f">*</span></div>
<div class="a" style="left:1432px;top:550px;width:140px;height:1px;background:#ddd"></div>
<div class="a" style="left:1451px;top:569px;font-size:12px;color:#aaa">Message<span style="color:#e8303f">*</span></div>
<div class="a" style="left:1462px;top:608px;font-size:12px;color:#bbb">Enter your feedback</div>
<div class="a" style="left:1451px;top:632px;width:120px;height:1px;background:#f0a0a8"></div>
<div class="a" style="left:1451px;top:657px;font-size:12px;color:#aaa">Give your score</div>
<div class="a" style="left:1460px;top:691px;font-size:11px;color:#aaa">1</div>
<div class="a" style="left:1490px;top:691px;font-size:11px;color:#aaa">2</div>
<div class="a" style="left:1519px;top:691px;font-size:11px;color:#aaa">3</div>
<div class="a" style="left:1554px;top:691px;font-size:11px;color:#aaa">4</div>
<div class="a" style="left:1457px;top:723px;width:115px;height:2px;background:#e8707a"></div>
<div class="a" style="left:1451px;top:733px;font-size:11px;color:#aaa">Low</div>
<div class="a" style="left:1432px;top:932px;width:140px;height:1px;background:#ddd"></div>
<div class="a" style="left:1555px;top:932px;width:17px;height:3px;background:#e8303f"></div>
<div class="a" style="left:1480px;top:946px;font-size:14px;color:#444">HUB</div>
<div class="a" style="left:1557px;top:946px;font-size:14px;color:#444">FI</div>
</div></body></html>
